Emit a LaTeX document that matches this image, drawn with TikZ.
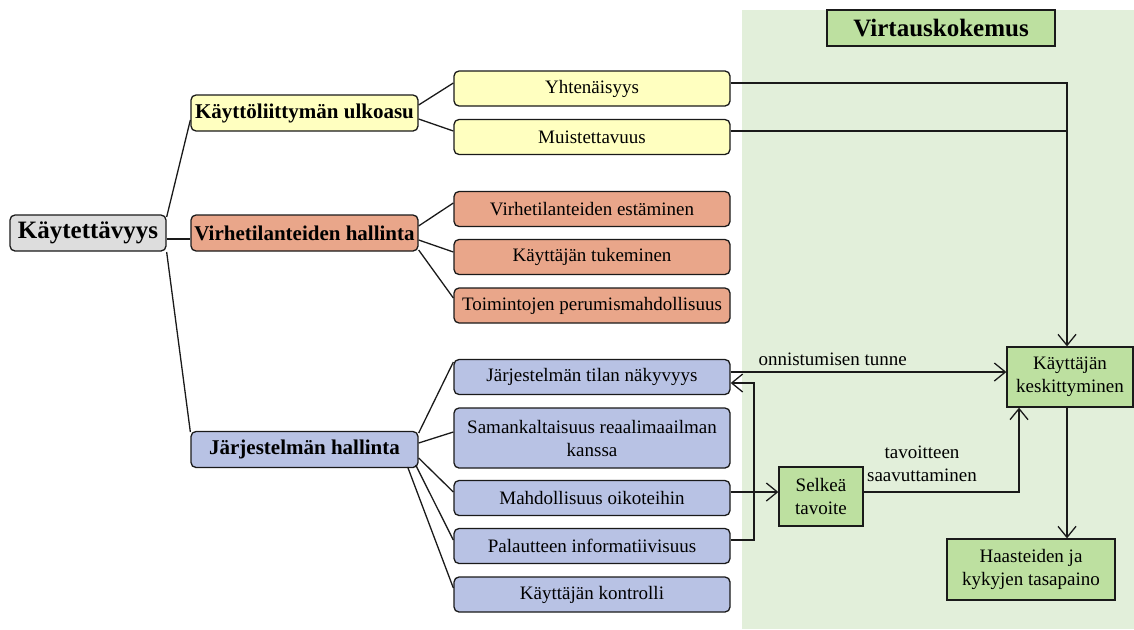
\documentclass[tikz,border=0pt]{standalone}
\usepackage{fontspec}
\setmainfont{Liberation Serif}
\usetikzlibrary{arrows.meta,calc}
\definecolor{cyel}{RGB}{255,255,192}
\definecolor{corg}{RGB}{233,166,138}
\definecolor{cblu}{RGB}{184,194,228}
\definecolor{cgry}{RGB}{221,221,221}
\definecolor{cgrn}{RGB}{189,224,160}
\definecolor{cbg}{RGB}{226,239,218}
\definecolor{cln}{RGB}{26,26,26}
\tikzset{
  box/.style={draw=cln, line width=1.3pt, rounded corners=5pt, inner sep=0pt, align=center, font=\fontsize{19}{23}\selectfont},
  rootbox/.style={box, fill=cgry, minimum width=156pt, minimum height=36pt, font=\fontsize{25}{30}\selectfont\bfseries},
  lonebox/.style={box, minimum width=227pt, minimum height=36pt, font=\fontsize{21}{25}\selectfont\bfseries},
  ltwobox/.style={box, minimum width=276pt, minimum height=35pt},
  gbox/.style={draw=cln, line width=1.3pt, fill=cgrn, inner sep=0pt, align=center, font=\fontsize{19}{23}\selectfont},
  conn/.style={draw=cln, line width=1.3pt},
  arr/.style={conn, -{Straight Barb[length=11pt,width=18pt,line width=1.3pt]}},
  lbl/.style={font=\fontsize{19}{23}\selectfont, align=center, inner sep=0pt}
}
\begin{document}
\begin{tikzpicture}[x=1pt,y=-1pt]
\useasboundingbox (0,0) rectangle (1134,629);
\fill[cbg] (742,10) rectangle (1134,629);

% left tree
\node[rootbox] (root) at (88,233) {Käytettävyys};
\node[lonebox, fill=cyel] (ui) at (304.5,113) {Käyttöliittymän ulkoasu};
\node[lonebox, fill=corg] (virhe) at (304.5,233) {Virhetilanteiden hallinta};
\node[lonebox, fill=cblu] (jarj) at (304.5,449.5) {Järjestelmän hallinta};

\node[ltwobox, fill=cyel] (yht) at (592,88.5) {Yhtenäisyys};
\node[ltwobox, fill=cyel] (muist) at (592,137) {Muistettavuus};
\node[ltwobox, fill=corg] (est) at (592,209) {Virhetilanteiden estäminen};
\node[ltwobox, fill=corg] (tuk) at (592,257) {Käyttäjän tukeminen};
\node[ltwobox, fill=corg] (toim) at (592,305.5) {Toimintojen perumismahdollisuus};
\node[ltwobox, fill=cblu] (tilan) at (592,377) {Järjestelmän tilan näkyvyys};
\node[ltwobox, fill=cblu, minimum height=60pt] (saman) at (592,438) {Samankaltaisuus reaalimaailman\\kanssa};
\node[ltwobox, fill=cblu] (mahd) at (592,498) {Mahdollisuus oikoteihin};
\node[ltwobox, fill=cblu] (pal) at (592,546) {Palautteen informatiivisuus};
\node[ltwobox, fill=cblu] (kontr) at (592,594.5) {Käyttäjän kontrolli};

% right side
\node[gbox, minimum width=228pt, minimum height=36pt, font=\fontsize{25}{30}\selectfont\bfseries] (title) at (941,28) {Virtauskokemus};
\node[gbox, minimum width=126pt, minimum height=60pt] (kesk) at (1070,377) {Käyttäjän\\keskittyminen};
\node[gbox, minimum width=84pt, minimum height=59pt] (selk) at (821,496.5) {Selkeä\\tavoite};
\node[gbox, minimum width=168pt, minimum height=61pt] (haast) at (1031,569.5) {Haasteiden ja\\kykyjen tasapaino};

\coordinate (vx) at (1067,0);
\coordinate (fx) at (754,0);
\coordinate (sx) at (1019,0);

% tree connectors
\draw[conn] ($(root.east)+(0,-16)$) -- ($(ui.west)+(0,7)$);
\draw[conn] ($(root.east)+(0,6)$) -- ($(virhe.west)+(0,6)$);
\draw[conn] ($(root.east)+(0,19)$) -- ($(jarj.west)+(0,-17.5)$);

\draw[conn] ($(ui.east)+(0,-8)$) -- ($(yht.west)+(0,-5.5)$);
\draw[conn] ($(ui.east)+(0,6)$) -- ($(muist.west)+(0,-6)$);

\draw[conn] ($(virhe.east)+(0,-7)$) -- ($(est.west)+(0,-6)$);
\draw[conn] ($(virhe.east)+(0,7)$) -- ($(tuk.west)+(0,-5)$);
\draw[conn] ($(virhe.east)+(0,17)$) -- ($(toim.west)+(0,-7.5)$);

\draw[conn] ($(jarj.east)+(0,-16.5)$) -- ($(tilan.west)+(0,-15)$);
\draw[conn] ($(jarj.east)+(0,-6.5)$) -- ($(saman.west)+(0,-6)$);
\draw[conn] ($(jarj.east)+(0,8.5)$) -- ($(mahd.west)+(0,-6)$);
\draw[conn] ($(jarj.east)+(-3,15.5)$) -- ($(pal.west)+(0,-6)$);
\draw[conn] ($(jarj.east)+(-11,17.5)$) -- ($(kontr.west)+(0,-6.5)$);

% connector end points
\coordinate (yhtE) at ($(yht.east)+(0,-5.5)$);
\coordinate (muistE) at ($(muist.east)+(0,-6)$);
\coordinate (tilanE) at ($(tilan.east)+(0,-5)$);
\coordinate (tilanR) at ($(tilan.east)+(0,6)$);
\coordinate (keskW) at ($(kesk.west)+(0,-5)$);
\coordinate (palE) at ($(pal.east)+(0,-6)$);
\coordinate (mahdE) at ($(mahd.east)+(0,-6)$);
\coordinate (selkW) at ($(selk.west)+(0,-4.5)$);
\coordinate (selkE) at ($(selk.east)+(0,-4.5)$);

% flow connectors
\draw[arr] (yhtE) -- (yhtE -| vx) -- (kesk.north -| vx);
\draw[conn] (muistE) -- (muistE -| vx);
\draw[arr] (tilanE) -- node[lbl, above=6pt, pos=0.37] {onnistumisen tunne} (keskW);
\draw[arr] (palE) -- (palE -| fx) -- (tilanR -| fx) -- (tilanR);
\draw[arr] (mahdE) -- (selkW);
\draw[arr] (selkE) -- (selkE -| sx) -- (kesk.south -| sx);
\node[lbl] (tlab) at (922,464) {tavoitteen\\saavuttaminen};
\draw[arr] (kesk.south -| vx) -- (haast.north -| vx);
\end{tikzpicture}
\end{document}
